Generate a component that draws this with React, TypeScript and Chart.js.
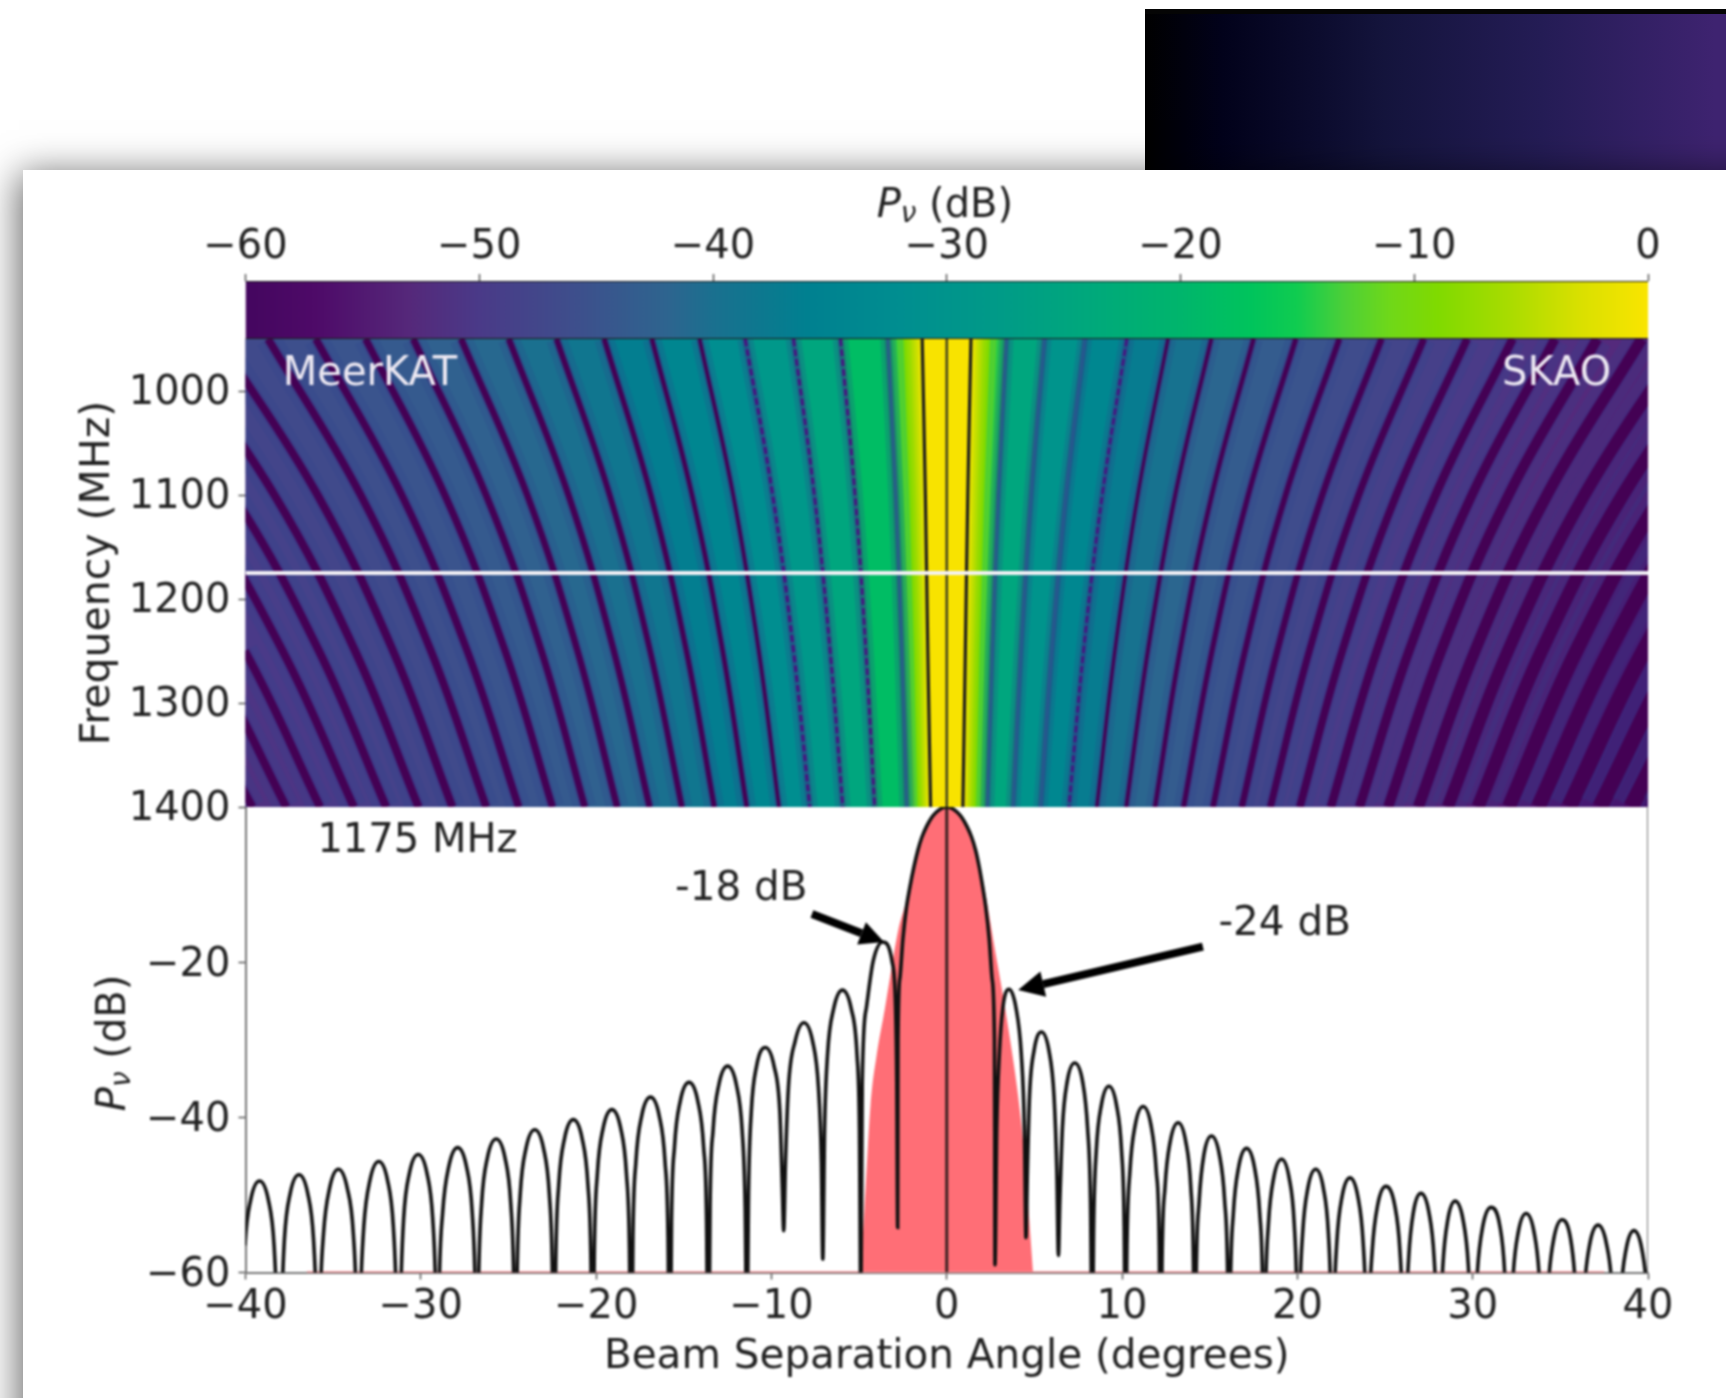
import React, { useEffect, useRef } from "react";
import { Chart, registerables } from "chart.js";

Chart.register(...registerables);

const FONT = '"DejaVu Sans"';
const INK = "#222222";

// ---- Lower panel: beam pattern at 1175 MHz, read lobe by lobe (degrees, dB) ----
const beamAngle = [
  -40.2,-40.03,-39.7,-39.2,-38.7,-38.37,-38.2,-38.1,
  -37.95,-37.78,-37.45,-36.95,-36.45,-36.12,-35.95,-35.85,
  -35.75,-35.55,-35.2,-34.7,-34.2,-33.85,-33.68,-33.6,
  -33.45,-33.25,-32.9,-32.4,-31.9,-31.57,-31.4,-31.3,
  -31.15,-30.98,-30.65,-30.15,-29.65,-29.32,-29.15,-29.05,
  -28.95,-28.75,-28.4,-27.9,-27.4,-27.07,-26.9,-26.8,
  -26.7,-26.53,-26.2,-25.7,-25.2,-24.87,-24.7,-24.6,
  -24.5,-24.33,-24,-23.5,-23,-22.67,-22.5,-22.4,
  -22.3,-22.13,-21.8,-21.3,-20.8,-20.47,-20.3,-20.2,
  -20.1,-19.93,-19.6,-19.1,-18.6,-18.27,-18.1,-18,
  -17.9,-17.73,-17.4,-16.9,-16.4,-16.07,-15.9,-15.8,
  -15.7,-15.53,-15.2,-14.7,-14.2,-13.87,-13.7,-13.6,
  -13.5,-13.33,-13,-12.5,-12,-11.67,-11.5,-11.4,
  -11.3,-11.15,-10.85,-10.35,-9.85,-9.52,-9.38,-9.3,
  -9.2,-9.03,-8.65,-8.15,-7.65,-7.32,-7.15,-7.07,
  -6.97,-6.8,-6.45,-5.95,-5.45,-5.12,-4.98,-4.9,
  -4.82,-4.58,-4.2,-3.65,-3.12,-2.92,-2.85,-2.8,
  -2.79,-2.78,-2.67,-2.5,-2.29,-2.1,-1.87,-1.65,-1.42,-1.15,-0.86,-0.6,-0.3,0,
  0.3,0.6,0.86,1.15,1.42,1.65,1.85,2.05,2.22,2.42,2.58,2.72,2.74,2.75,
  2.85,3,3.2,3.55,3.95,4.25,4.43,4.52,
  4.6,4.72,4.98,5.4,5.83,6.12,6.28,6.37,
  6.45,6.6,6.87,7.3,7.75,8.03,8.2,8.3,
  8.38,8.53,8.82,9.25,9.68,9.97,10.12,10.2,
  10.28,10.45,10.75,11.2,11.65,11.95,12.12,12.2,
  12.28,12.45,12.75,13.2,13.63,13.92,14.07,14.15,
  14.23,14.4,14.67,15.1,15.55,15.85,16.02,16.1,
  16.18,16.35,16.65,17.1,17.55,17.85,18.02,18.1,
  18.18,18.35,18.65,19.1,19.53,19.82,19.97,20.05,
  20.13,20.3,20.6,21.05,21.48,21.77,21.92,22,
  22.08,22.25,22.55,23,23.45,23.75,23.92,24,
  24.08,24.27,24.58,25.05,25.55,25.85,26.02,26.1,
  26.18,26.35,26.62,27.05,27.5,27.8,27.97,28.05,
  28.13,28.3,28.58,29,29.45,29.75,29.92,30,
  30.08,30.27,30.58,31.05,31.55,31.82,31.97,32.05,
  32.13,32.3,32.6,33.05,33.5,33.8,33.97,34.05,
  34.13,34.32,34.63,35.1,35.58,35.85,36.02,36.1,
  36.18,36.37,36.68,37.15,37.63,37.95,38.12,38.2,
  38.28,38.45,38.75,39.2,39.65,39.95,40.12,40.2,
];
const beamDb = [
  -66.2,-56.5,-50.6,-48.2,-50.6,-56.5,-66.2,-80,
  -65.4,-55.7,-49.8,-47.4,-49.8,-55.7,-65.4,-80,
  -64.7,-55,-49.1,-46.7,-49.1,-55,-64.7,-80,
  -63.7,-54,-48.1,-45.7,-48.1,-54,-63.7,-80,
  -62.8,-53.1,-47.2,-44.8,-47.2,-53.1,-62.8,-80,
  -61.9,-52.2,-46.3,-43.9,-46.3,-52.2,-61.9,-80,
  -60.8,-51.1,-45.2,-42.8,-45.2,-51.1,-60.8,-80,
  -59.6,-49.9,-44,-41.6,-44,-49.9,-59.6,-80,
  -58.3,-48.6,-42.7,-40.3,-42.7,-48.6,-58.3,-80,
  -57,-47.3,-41.4,-39,-41.4,-47.3,-57,-80,
  -55.4,-45.7,-39.8,-37.4,-39.8,-45.7,-55.4,-80,
  -53.5,-43.8,-37.9,-35.5,-37.9,-43.8,-53.5,-80,
  -51.4,-41.7,-35.8,-33.4,-35.8,-41.7,-51.4,-70,
  -49,-39.3,-33.4,-31,-33.4,-39.3,-49,-54.6,
  -45.8,-36.1,-30.2,-27.8,-30.2,-36.1,-45.8,-58.3,
  -41.6,-31.9,-26,-23.6,-26,-31.9,-41.6,-65,
  -35.5,-25.8,-19.9,-17.4,-19.9,-25.8,-35.5,-54.2,
  -42,-30,-22,-17,-12.8,-10.3,-7.7,-5.6,-3.9,-2.5,-1.35,-0.67,-0.17,0,
  -0.17,-0.67,-1.35,-2.5,-3.9,-5.6,-7.7,-10.3,-12.8,-17,-22,-30,-42,-59,
  -41.5,-31.8,-25.9,-23.5,-25.9,-31.8,-41.5,-55.5,
  -47,-37.3,-31.4,-29,-31.4,-37.3,-47,-57.8,
  -51,-41.3,-35.4,-33,-35.4,-41.3,-51,-72,
  -54,-44.3,-38.4,-36,-38.4,-44.3,-54,-75,
  -56.6,-46.9,-41,-38.6,-41,-46.9,-56.6,-80,
  -58.7,-49,-43.1,-40.7,-43.1,-49,-58.7,-80,
  -60.4,-50.7,-44.8,-42.4,-44.8,-50.7,-60.4,-80,
  -62,-52.3,-46.4,-44,-46.4,-52.3,-62,-80,
  -63.4,-53.7,-47.8,-45.4,-47.8,-53.7,-63.4,-80,
  -64.7,-55,-49.1,-46.7,-49.1,-55,-64.7,-80,
  -65.8,-56.1,-50.2,-47.8,-50.2,-56.1,-65.8,-80,
  -66.9,-57.2,-51.3,-48.9,-51.3,-57.2,-66.9,-80,
  -67.8,-58.1,-52.2,-49.8,-52.2,-58.1,-67.8,-80,
  -68.8,-59.1,-53.2,-50.8,-53.2,-59.1,-68.8,-80,
  -69.6,-59.9,-54,-51.6,-54,-59.9,-69.6,-80,
  -70.4,-60.7,-54.8,-52.4,-54.8,-60.7,-70.4,-80,
  -71.2,-61.5,-55.6,-53.2,-55.6,-61.5,-71.2,-80,
  -71.9,-62.2,-56.3,-53.9,-56.3,-62.2,-71.9,-80,
  -72.6,-62.9,-57,-54.6,-57,-62.9,-72.6,-80,
];

// Red primary beam envelope
const primaryAngle = [-4.92,-4.7,-4.35,-4,-3.53,-3.24,-2.78,-2.3,-1.87,-1.42,-0.86,-0.3,0,0.3,0.86,1.42,1.85,2.27,2.75,3.2,3.65,4,4.35,4.7,4.92];
const primaryDb = [-60,-52,-38.5,-32,-26,-22,-16,-12,-7.2,-3.6,-1.2,-0.1,0,-0.1,-1.2,-3.6,-7.2,-12,-18.4,-24.2,-30.5,-36,-43,-53,-60];
const primaryFloorAngle = [-36.5, 37.5];

// ---- Colour bar ----
const colorbarDb = [-60,-57,-53,-50,-46,-42,-40,-36,-32,-28,-24,-20,-17,-15,-13,-11,-9,-6,-3,0];
const colorbarHex = ["#44065f","#4e0a68","#55287a","#4a3a88","#3e4e8c","#2e648f","#1a708f","#008090","#008e90","#009a88","#00a87c","#00b56c","#00c45c","#10cc50","#4cd038","#70d818","#80da00","#a8dc00","#d8e000","#fae500"];

// ---- Heat map: sampled frequency rows (MHz) and null-line positions (deg from boresight) ----
const freqRows = [950, 1100, 1250, 1400];
const nullLeft950 = [3.36,6.06,8.74,11.5,14.1,16.82,19.54,22.26,24.98,27.7,30.43,33.15,35.99,38.71,41.56,44.4,47.12,49.84,52.69,55.53,58.38,61.22];
const nullLeft1100 = [2.91,5.23,7.55,9.93,12.18,14.53,16.88,19.23,21.58,23.93,26.28,28.63,31.09,33.43,35.89,38.35,40.7,43.05,45.51,47.96,50.42,52.88];
const nullLeft1250 = [2.56,4.61,6.65,8.74,10.72,12.78,14.85,16.92,18.99,21.06,23.12,25.19,27.35,29.42,31.58,33.75,35.81,37.88,40.04,42.21,44.37,46.53];
const nullLeft1400 = [2.28,4.11,5.93,7.81,9.57,11.41,13.26,15.11,16.95,18.8,20.65,22.49,24.42,26.27,28.2,30.13,31.98,33.82,35.75,37.68,39.61,41.55];
const nullRight950 = [3.4,5.57,7.88,10.27,12.62,15.09,17.5,19.91,22.39,24.8,27.21,29.68,32.28,34.69,37.1,39.64,42.11,44.65,47.25,49.72,52.32,54.91,57.51,60.11];
const nullRight1100 = [2.94,4.81,6.8,8.87,10.9,13.03,15.12,17.2,19.33,21.42,23.5,25.64,27.88,29.96,32.05,34.24,36.37,38.56,40.81,42.94,45.19,47.43,49.67,51.92];
const nullRight1250 = [2.59,4.23,5.99,7.8,9.59,11.47,13.3,15.13,17.01,18.85,20.68,22.56,24.53,26.37,28.2,30.13,32.01,33.93,35.91,37.79,39.76,41.74,43.71,45.68];
const nullRight1400 = [2.31,3.78,5.35,6.97,8.56,10.24,11.88,13.51,15.19,16.83,18.46,20.14,21.91,23.54,25.18,26.9,28.58,30.3,32.06,33.74,35.5,37.26,39.03,40.79];
const lobeLevelLeft = [-17.5,-23.6,-27.8,-31,-33.4,-35.5,-37.4,-39,-40.3,-41.6,-42.8,-43.9,-44.8,-45.7,-46.7,-47.4,-48.2,-49,-49.8,-50.5,-51.2];
const lobeLevelRight = [-23.5,-29,-33,-36,-38.6,-40.7,-42.4,-44,-45.4,-46.7,-47.8,-48.9,-49.8,-50.8,-51.6,-52.4,-53.2,-53.9,-54.6,-55.2,-55.8,-56.4,-57];
const nullWidthLeft = [2.6,2.8,2.8,3,3.6,4.4,5,5.5,6,6.3,6.6,6.9,7.2,7.5,7.8,8,8,8,8,8,8,8];
const nullWidthRight = [2.2,2.2,2.2,2.6,3.2,3.8,4.4,5,5.6,6.2,6.8,7.6,8.4,9.2,10.2,11.2,12.2,13.2,14.2,15,16,16,16,16];

// Main-beam colour contours: half-width at each frequency row
const contourHalfWidth = [
  [3.36,2.91,2.56,2.28],[3.09,2.67,2.35,2.1],[2.84,2.46,2.16,1.93],[2.47,2.14,1.88,1.68],[2.29,1.98,1.74,1.55],
  [2.1,1.82,1.6,1.43],[1.95,1.69,1.49,1.33],[1.79,1.55,1.36,1.22],[1.63,1.41,1.24,1.11],[1.48,1.28,1.13,1.01],
];
const contourHex = ["#0cc658","#28ca48","#50d030","#80da00","#94db00","#a8dc00","#bcde00","#d0e000","#e6e200","#f8e300"];
const halfPowerLeft = [-1.4,-1.22,-1.08,-0.92];
const halfPowerRight = [1.38,1.2,1.06,0.92];

// ---- Arrows (deg, dB) ----
const arrow18Shaft = [[-7.69,-13.8],[-4.86,-16.28]];
const arrow18Head = [[-5.11,-17.72],[-3.58,-17.4],[-4.61,-14.84]];
const arrow24Shaft = [[14.61,-18],[5.5,-22.83]];
const arrow24Head = [[5.67,-24.47],[4.07,-23.6],[5.34,-21.19]];

// ---- Axis ticks ----
const colorbarTicks = [-60,-50,-40,-30,-20,-10,0];
const freqTicks = [1000,1100,1200,1300,1400];
const dbTicks = [-60,-40,-20];
const angleTicks = [-40,-30,-20,-10,0,10,20,30,40];

const minus = (v: number) => String(v).replace("-", "\u2212");

function hexToRgb(h: string) {
  return [parseInt(h.slice(1, 3), 16), parseInt(h.slice(3, 5), 16), parseInt(h.slice(5, 7), 16)];
}
function colormap(db: number) {
  for (let i = 1; i < colorbarDb.length; i++) {
    if (db <= colorbarDb[i]) {
      const t = (db - colorbarDb[i - 1]) / (colorbarDb[i] - colorbarDb[i - 1]);
      const a = hexToRgb(colorbarHex[i - 1]);
      const b = hexToRgb(colorbarHex[i]);
      return `rgb(${a.map((v, k) => Math.round(v + (b[k] - v) * t)).join(",")})`;
    }
  }
  return colorbarHex[colorbarHex.length - 1];
}

type P = { x: number; y: number };
const band = (a: number[], b: number[]): P[] => [
  ...freqRows.map((f, i) => ({ x: a[i], y: f })),
  ...freqRows.map((_, i) => ({ x: b[3 - i], y: freqRows[3 - i] })),
];

function buildDatasets() {
  const ds: any[] = [];
  const onBeam = { xAxisID: "xBeam", yAxisID: "yBeam" };
  const onHeat = { xAxisID: "xBeam", yAxisID: "yFreq" };
  const onBar = { xAxisID: "xBar", yAxisID: "yBar" };
  const poly = (data: P[], color: any, ax: any, extra: any = {}) =>
    ds.push({ data, ...ax, showLine: true, fill: "shape", backgroundColor: color, borderWidth: 0, pointRadius: 0, ...extra });
  const line = (data: P[], color: string, width: number, ax: any, extra: any = {}) =>
    ds.push({ data, ...ax, showLine: true, fill: false, borderColor: color, borderWidth: width, pointRadius: 0, ...extra });

  // colour bar
  poly(
    [{ x: -60, y: 0 }, { x: 0, y: 0 }, { x: 0, y: 1 }, { x: -60, y: 1 }],
    (c: any) => {
      const s = c.chart.scales.xBar;
      if (!s || !s.width) return colorbarHex[0];
      const g = c.chart.ctx.createLinearGradient(s.left, 0, s.right, 0);
      colorbarDb.forEach((d, i) => g.addColorStop((d + 60) / 60, colorbarHex[i]));
      return g;
    },
    onBar
  );
  line([{ x: -60, y: 0 }, { x: 0, y: 0 }], "#1c1c1c", 2, onBar);
  line([{ x: -60, y: 1 }, { x: 0, y: 1 }], "#1c1c1c", 2, onBar);

  // heat map backdrop
  poly(band([-40, -40, -40, -40], [40, 40, 40, 40]), colorbarHex[0], onHeat);

  const rowsLeft = (i: number) => [nullLeft950[i], nullLeft1100[i], nullLeft1250[i], nullLeft1400[i]].map((v) => -v);
  const rowsRight = (i: number) => [nullRight950[i], nullRight1100[i], nullRight1250[i], nullRight1400[i]];

  lobeLevelLeft.forEach((lv, i) => poly(band(rowsLeft(i), rowsLeft(i + 1)), colormap(lv - 1), onHeat));
  lobeLevelRight.forEach((lv, i) => poly(band(rowsRight(i), rowsRight(i + 1)), colormap(lv - 1), onHeat));
  contourHalfWidth.forEach((hw, i) => poly(band(hw.map((v) => -v), hw), contourHex[i], onHeat));

  const nullLine = (rows: number[], w: number, blueUpTo: number, i: number) => {
    const data = freqRows.map((f, k) => ({ x: rows[k], y: f }));
    line(data, "rgba(45,70,140,0.22)", w * 2 + 10, onHeat, { tension: 0.4 });
    line(data, "rgba(60,45,130,0.34)", w + 4, onHeat, { tension: 0.4 });
    const blue = i <= blueUpTo;
    const dashed = !blue && i <= 3;
    line(data, blue ? "#2b5590" : dashed ? "#4a1080" : "#440154", blue ? 2.2 : w, onHeat, { tension: 0.4, borderDash: dashed ? [7, 3] : [] });
  };
  nullWidthLeft.forEach((w, i) => nullLine(rowsLeft(i), w, 0, i));
  nullWidthRight.forEach((w, i) => nullLine(rowsRight(i), w, 2, i));

  line(freqRows.map((f, k) => ({ x: halfPowerLeft[k], y: f })), "#1c1c1c", 3.2, onHeat, { tension: 0.4 });
  line(freqRows.map((f, k) => ({ x: halfPowerRight[k], y: f })), "#1c1c1c", 3.2, onHeat, { tension: 0.4 });
  line([{ x: 0, y: 950 }, { x: 0, y: 1400 }], "#3a3a20", 2.4, onHeat);
  line([{ x: -40, y: 1175 }, { x: 40, y: 1175 }], "#f4f2f6", 4, onHeat);

  // beam panel
  poly(primaryAngle.map((x, i) => ({ x, y: primaryDb[i] })), "#ff6e76", onBeam, { cubicInterpolationMode: "monotone" });
  line(primaryFloorAngle.map((x) => ({ x, y: -60 })), "#ff8e94", 2.5, onBeam);
  line([{ x: 0, y: 0 }, { x: 0, y: -60 }], "rgba(25,20,20,0.85)", 3, onBeam);
  line(beamAngle.map((x, i) => ({ x, y: beamDb[i] })), "#111111", 3.6, onBeam, { cubicInterpolationMode: "monotone" });
  line([{ x: 40, y: 0 }, { x: 40, y: -60 }], "#777777", 2, onBeam);

  const pts = (a: number[][]) => a.map(([x, y]) => ({ x, y }));
  line(pts(arrow18Shaft), "#000000", 8, onBeam);
  poly(pts(arrow18Head), "#000000", onBeam);
  line(pts(arrow24Shaft), "#000000", 8, onBeam);
  poly(pts(arrow24Head), "#000000", onBeam);

  ds.forEach((d, i) => (d.order = ds.length - i));
  return ds;
}

const annotationPlugin = {
  id: "panelText",
  afterDatasetsDraw(chart: any) {
    const { ctx, scales } = chart;
    const { xBeam, yFreq, yBeam, xBar } = scales;
    const put = (text: string, x: number, y: number, color: string, size: number, align: CanvasTextAlign = "left") => {
      ctx.fillStyle = color;
      ctx.textAlign = align;
      ctx.textBaseline = "middle";
      ctx.font = `${size}px ${FONT}`;
      ctx.fillText(text, x, y);
    };
    ctx.save();
    put("MeerKAT", xBeam.getPixelForValue(-37.87), yFreq.getPixelForValue(984), "#ece8f2", 40);
    put("SKAO", xBeam.getPixelForValue(37.9), yFreq.getPixelForValue(984), "#ece8f2", 40, "right");
    put("1175 MHz", xBeam.getPixelForValue(-35.9), yBeam.getPixelForValue(-4.45), INK, 40);
    put("-18 dB", xBeam.getPixelForValue(-15.5), yBeam.getPixelForValue(-10.65), INK, 40.5);
    put("-24 dB", xBeam.getPixelForValue(15.5), yBeam.getPixelForValue(-15.2), INK, 40.5);

    const power = () => {
      ctx.textAlign = "left";
      ctx.textBaseline = "middle";
      ctx.fillStyle = INK;
      ctx.font = `italic 40px ${FONT}`;
      ctx.fillText("P", 0, 0);
      let w = ctx.measureText("P").width;
      ctx.font = `italic 28px ${FONT}`;
      ctx.fillText("\u03bd", w, 8);
      w += ctx.measureText("\u03bd").width;
      ctx.font = `40px ${FONT}`;
      ctx.fillText(" (dB)", w, 0);
    };
    ctx.save();
    ctx.translate(xBar.getPixelForValue(-33), 207);
    power();
    ctx.restore();
    ctx.save();
    ctx.translate(115, yBeam.getPixelForValue(-39.2));
    ctx.rotate(-Math.PI / 2);
    power();
    ctx.restore();
    ctx.restore();
  },
};

export default function App() {
  const ref = useRef<HTMLCanvasElement>(null);
  useEffect(() => {
    if (!ref.current) return;
    const tickFont = { family: FONT, size: 40 };
    const grid = { drawOnChartArea: false, drawTicks: true, tickLength: 7, tickColor: "#555555", tickWidth: 1.5 };
    const leftAxis = (w: number) => ({ afterFit: (s: any) => { s.width = w; } });
    const chart = new Chart(ref.current, {
      type: "scatter",
      data: { datasets: buildDatasets() },
      plugins: [annotationPlugin],
      options: {
        animation: false,
        responsive: false,
        maintainAspectRatio: false,
        events: [],
        layout: { autoPadding: false, padding: { left: 0, right: 78, top: 0, bottom: 0 } },
        plugins: { legend: { display: false }, tooltip: { enabled: false }, title: { display: false } },
        scales: {
          yBeam: {
            axis: "y", type: "linear", position: "left", stack: "panels", stackWeight: 465.5, min: -60, max: 0,
            ...leftAxis(245.5),
            afterBuildTicks: (s: any) => { s.ticks = dbTicks.map((value) => ({ value })); },
            ticks: { font: tickFont, color: INK, padding: 8, labelOffset: 3, callback: (v: any) => minus(v) },
            grid, border: { color: "#777777", width: 2 },
          },
          yFreq: {
            axis: "y", type: "linear", position: "left", stack: "panels", stackWeight: 468, min: 950, max: 1400, reverse: true,
            ...leftAxis(245.5),
            afterBuildTicks: (s: any) => { s.ticks = freqTicks.map((value) => ({ value })); },
            ticks: { font: tickFont, color: INK, padding: 8, labelOffset: 3, callback: (v: any) => String(v) },
            title: { display: true, text: "Frequency (MHz)", font: { family: FONT, size: 41 }, color: INK, padding: { top: 74, bottom: 0 } },
            grid, border: { display: false },
          },
          yBar: {
            axis: "y", type: "linear", position: "left", stack: "panels", stackWeight: 58, min: 0, max: 1,
            ...leftAxis(245.5),
            ticks: { display: false },
            grid: { display: false }, border: { display: false },
          },
          xBar: {
            axis: "x", type: "linear", position: "top", min: -60, max: 0,
            afterFit: (s: any) => { s.height = 281; },
            afterBuildTicks: (s: any) => { s.ticks = colorbarTicks.map((value) => ({ value })); },
            ticks: { font: tickFont, color: INK, padding: 2, maxRotation: 0, autoSkip: false, callback: (v: any) => minus(v) },
            grid, border: { display: false },
          },
          xBeam: {
            axis: "x", type: "linear", position: "bottom", min: -40, max: 40,
            afterFit: (s: any) => { s.height = 125.5; },
            afterBuildTicks: (s: any) => { s.ticks = angleTicks.map((value) => ({ value })); },
            ticks: { font: tickFont, color: INK, padding: 4, maxRotation: 0, autoSkip: false, callback: (v: any) => minus(v) },
            title: { display: true, text: "Beam Separation Angle (degrees)", font: { family: FONT, size: 40.5 }, color: INK, padding: { top: 0, bottom: 16 } },
            grid, border: { color: "#777777", width: 2 },
          },
        },
      } as any,
    });
    return () => chart.destroy();
  }, []);
  return (
    <div style={{ position: "absolute", left: 0, top: 0, width: 1726, height: 1398, overflow: "hidden", background: "#ffffff" }}>
      <div
        style={{
          position: "absolute", left: 1145, top: 9, width: 600, height: 200,
          background: "linear-gradient(90deg,#000000 0%,#02021b 13%,#0c0c2e 29%,#14143c 40%,#241c55 66%,#3e2370 95%)",
          borderTop: "5px solid #050505",
        }}
      />
      <div
        style={{
          position: "absolute", left: 23, top: 170, width: 1800, height: 1400, background: "#ffffff",
          boxShadow: "0 8px 36px 4px rgba(0,0,0,0.6)",
        }}
      />
      <canvas
        ref={ref}
        width={1726}
        height={1398}
        style={{ position: "absolute", left: 0, top: 0, filter: "blur(1.1px)" }}
      />
    </div>
  );
}
